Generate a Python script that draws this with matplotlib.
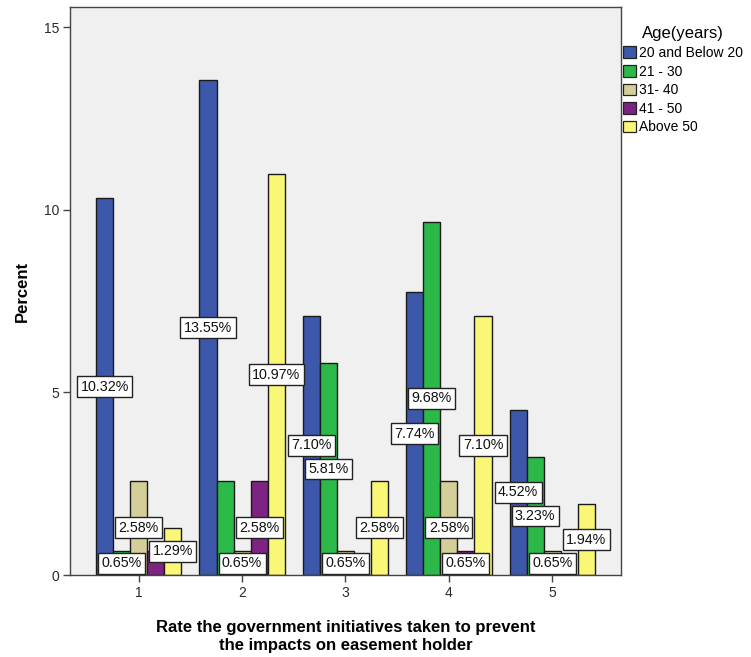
import matplotlib
matplotlib.use("Agg")
import matplotlib.pyplot as plt
import numpy as np

plt.rcParams['font.family'] = ['Liberation Sans', 'DejaVu Sans']

# Rating categories on the x axis
ratings = [1, 2, 3, 4, 5]

# Age groups (legend) and their colours
age_groups = ["20 and Below 20", "21 - 30", "31- 40", "41 - 50", "Above 50"]
colors = ["#3D57AA", "#2DB84A", "#D4CF98", "#7D2382", "#FAF676"]

# Percent of respondents per rating, one list per age group
pct_20_below = [10.32, 13.55, 7.10, 7.74, 4.52]
pct_21_30 = [0.65, 2.58, 5.81, 9.68, 3.23]
pct_31_40 = [2.58, 0.65, 0.65, 2.58, 0.65]
pct_41_50 = [0.65, 2.58, 0.00, 0.65, 0.00]
pct_above_50 = [1.29, 10.97, 2.58, 7.10, 1.94]

series = [pct_20_below, pct_21_30, pct_31_40, pct_41_50, pct_above_50]

# Value labels that are suppressed because they would collide with a neighbour
hidden_labels = {(0, 3), (1, 1)}

fig = plt.figure(figsize=(7.51, 6.57), dpi=100)
ax = fig.add_axes([0.0932, 0.1248, 0.7337, 0.8642])
ax.set_facecolor("#F0F0F0")

x = np.arange(len(ratings)) + 1
bar_w = 0.165
n = len(series)

for i, (vals, col, name) in enumerate(zip(series, colors, age_groups)):
    pos = x + (i - (n - 1) / 2) * bar_w
    ax.bar(pos, vals, width=bar_w, color=col, edgecolor="#1a1a1a",
           linewidth=1.0, label=name, zorder=2)
    for g, (px, v) in enumerate(zip(pos, vals)):
        if v <= 0 or (g, i) in hidden_labels:
            continue
        ax.text(px, v / 2, f"{v:.2f}%", ha="center", va="center",
                fontsize=10.3, color="#111111", zorder=5,
                bbox=dict(boxstyle="square,pad=0.24", facecolor="white",
                          edgecolor="#222222", linewidth=1.0))

ax.set_xlim(0.335, 5.665)
ax.set_ylim(0, 15.55)
ax.set_xticks(x)
ax.set_xticklabels([str(r) for r in ratings])
ax.set_yticks([0, 5, 10, 15])

for side in ["top", "right", "left", "bottom"]:
    ax.spines[side].set_color("#444444")
    ax.spines[side].set_linewidth(1.0)

ax.tick_params(axis="both", direction="out", length=5, width=1,
               color="#444444", labelsize=10, labelcolor="#2a2a2a", pad=3)

ax.set_ylabel("Percent", fontsize=12, fontweight="bold", labelpad=10)
ax.set_xlabel("Rate the government initiatives taken to prevent\nthe impacts on easement holder",
              fontsize=12, fontweight="bold", labelpad=14, linespacing=1.3)

leg = ax.legend(title="Age(years)", loc="upper left",
                bbox_to_anchor=(0.826, 0.964), bbox_transform=fig.transFigure,
                frameon=False, fontsize=10, title_fontsize=12,
                handlelength=0.9, handleheight=0.9, handletextpad=0.25,
                labelspacing=0.33, borderaxespad=0, borderpad=0.2)
for h in leg.legend_handles:
    h.set_edgecolor("#222222")
    h.set_linewidth(0.9)

fig.savefig("out.png", dpi=100, facecolor="white")
